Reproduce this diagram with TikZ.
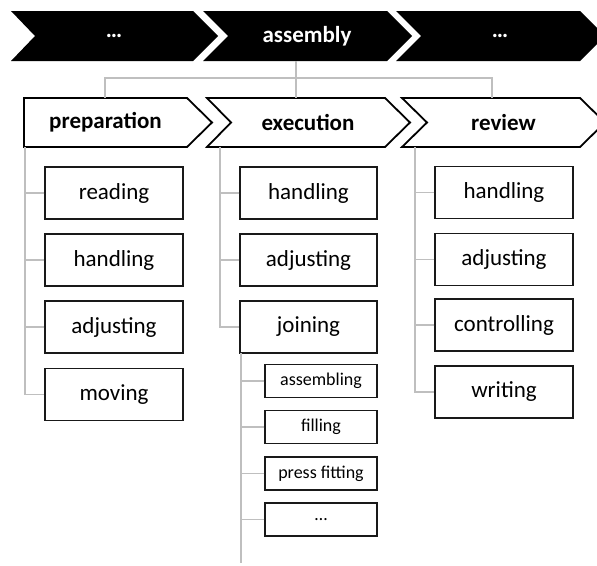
\documentclass[tikz,border=0pt]{standalone}
\usepackage{fontspec}
\setmainfont{Carlito}
\begin{document}
\begin{tikzpicture}[x=1pt,y=-1pt,
  link/.style={draw=black!25,line width=1.2pt},
  topchev/.style={fill=black,draw=none},
  phasechev/.style={draw=black,line width=1.8pt,fill=white,line join=miter},
  toptext/.style={text=white,font=\fontsize{23}{27}\selectfont\bfseries},
  phasetext/.style={font=\fontsize{23}{27}\selectfont\bfseries},
  taskbox/.style={draw=black!90,line width=1.3pt,minimum height=52pt,inner sep=0pt,font=\fontsize{23}{27}\selectfont},
  subbox/.style={draw=black!90,line width=1.3pt,minimum width=112pt,minimum height=33pt,inner sep=0pt,font=\fontsize{18}{22}\selectfont}]
\useasboundingbox (0,0) rectangle (597,565);
\fill[white] (0,0) rectangle (597,565);

% process chain on top
\path[topchev] (11,11) -- (193,11) -- (218,36) -- (193,61) -- (11,61) -- (35,36) -- cycle;
\path[topchev] (203,11) -- (387,11) -- (412,36) -- (387,61) -- (203,61) -- (228,36) -- cycle;
\path[topchev] (396,11) -- (580,11) -- (605,36) -- (580,61) -- (396,61) -- (421,36) -- cycle;
\node[toptext] (prev) at (114,36) {…};
\node[toptext] (asm) at (307,36) {assembly};
\node[toptext] (next) at (500,36) {…};
\coordinate (asmB) at (296,61);
\coordinate (bus) at (296,78);

% phases of the assembly step
\path[phasechev] (24,98) -- (187,98) -- (212,122.5) -- (187,147) -- (24,147) -- cycle;
\path[phasechev] (207,98) -- (385,98) -- (410,122.5) -- (385,147) -- (207,147) -- (231,122.5) -- cycle;
\path[phasechev] (402,98) -- (580,98) -- (605,122.5) -- (580,147) -- (402,147) -- (427,122.5) -- cycle;
\node[phasetext] (prep) at (105.5,122.5) {preparation};
\node[phasetext] (exec) at (308,122.5) {execution};
\node[phasetext] (rev) at (503.5,122.5) {review};
\coordinate (prepT) at (105,98);
\coordinate (execT) at (296,98);
\coordinate (revT) at (492,98);
\coordinate (prepB) at (25,147);
\coordinate (execB) at (220,147);
\coordinate (revB) at (415,147);

% tasks
\node[taskbox,minimum width=138pt] (p1) at (114,193) {reading};
\node[taskbox,minimum width=138pt] (p2) at (114,260) {handling};
\node[taskbox,minimum width=138pt] (p3) at (114,327) {adjusting};
\node[taskbox,minimum width=138pt] (p4) at (114,394.5) {moving};

\node[taskbox,minimum width=137pt] (e1) at (308.5,193) {handling};
\node[taskbox,minimum width=137pt] (e2) at (308.5,260) {adjusting};
\node[taskbox,minimum width=137pt] (e3) at (308.5,327) {joining};

\node[taskbox,minimum width=138pt] (r1) at (504,192.5) {handling};
\node[taskbox,minimum width=138pt] (r2) at (504,259.5) {adjusting};
\node[taskbox,minimum width=138pt] (r3) at (504,325) {controlling};
\node[taskbox,minimum width=138pt] (r4) at (504,392) {writing};

% kinds of joining
\node[subbox] (j1) at (321,381) {assembling};
\node[subbox] (j2) at (321,427) {filling};
\node[subbox] (j3) at (321,473.5) {press fitting};
\node[subbox] (j4) at (321,519.5) {…};
\coordinate (jB) at (241,353);
\coordinate (jEnd) at (241,563);

% connectors
\draw[link] (asmB) -- (execT);
\draw[link] (prepT) |- (bus) -| (revT);

\draw[link] (prepB) |- (p4.west);
\foreach \n in {p1,p2,p3} \draw[link] (\n.west) -- (\n.west -| prepB);
\draw[link] (execB) |- (e3.west);
\foreach \n in {e1,e2} \draw[link] (\n.west) -- (\n.west -| execB);
\draw[link] (revB) |- (r4.west);
\foreach \n in {r1,r2,r3} \draw[link] (\n.west) -- (\n.west -| revB);
\draw[link] (jB) -- (jEnd);
\foreach \n in {j1,j2,j3,j4} \draw[link] (\n.west) -- (\n.west -| jB);
\end{tikzpicture}
\end{document}
